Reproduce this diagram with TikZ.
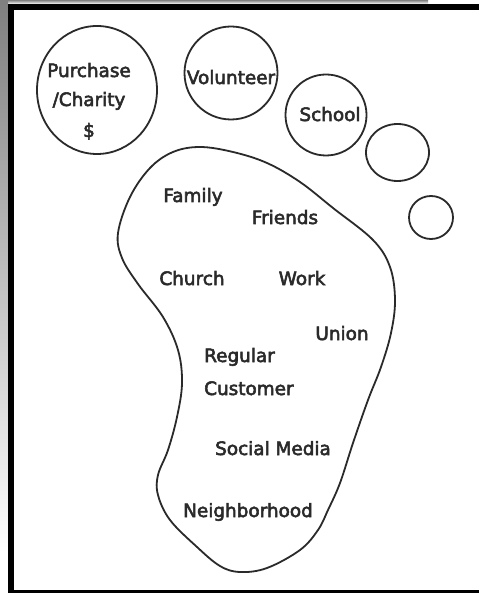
\documentclass[tikz,border=0pt]{standalone}
\usepackage{fontspec}
\setmainfont{DejaVu Sans}[FakeBold=3]
\usetikzlibrary{shapes.geometric}
\definecolor{ink}{HTML}{2A2A2A}
\definecolor{shade}{HTML}{DADADA}
\tikzset{
  toe/.style={draw=ink, line width=1.8pt, ellipse, inner sep=0pt},
  lbl/.style={text=ink, inner sep=0pt, anchor=base, font=\fontsize{18.4}{20}\selectfont},
  foot/.style={draw=ink, line width=1.8pt}
}
\begin{document}
\begin{tikzpicture}[x=1pt, y=-1pt]
\useasboundingbox (0,0) rectangle (479,593);
% background and frame
\fill[white] (0,0) rectangle (479,593);
\fill[shade] (0,0) rectangle (428,4);
\fill[shade] (0,0) rectangle (8,553);
\fill[black] (8,4) rectangle (479,593);
\fill[white] (14,10) rectangle (479,590);
% toes
\node[toe, minimum width=120pt, minimum height=128pt] (p) at (97,90) {};
\node[toe, minimum width=93pt, minimum height=93pt] (v) at (231,73) {};
\node[toe, minimum width=81pt, minimum height=81pt] (s) at (326,115) {};
\node[toe, minimum width=63pt, minimum height=57pt] (t4) at (397.5,152.5) {};
\node[toe, minimum width=44pt, minimum height=43pt] (t5) at (431,217.5) {};
% foot
\draw[foot] plot[smooth cycle, tension=0.6] coordinates {
 (200,147) (233,152) (267,163) (300,182) (333,208) (373,240) (390,267)
 (395,300) (391,333) (381,367) (368,400) (353,443) (340,483) (328,510)
 (318,530) (300,550) (267,568) (240,572) (220,566) (197,547) (170,520)
 (158,495) (158,475) (168,450) (177,417) (182,383) (178,350) (163,317)
 (138,284) (122,258) (118,233) (130,197) (150,168) (173,152)};
% labels
\node[lbl] (purchase) at (89,77) {Purchase};
\node[lbl] (charity) at (89,106) {/Charity};
\node[lbl] (dollar) at (89,137) {\$};
\node[lbl] (volunteer) at (231,84) {Volunteer};
\node[lbl] (school) at (330,121) {School};
\node[lbl] (family) at (193,202) {Family};
\node[lbl] (friends) at (285,224) {Friends};
\node[lbl] (church) at (192,285) {Church};
\node[lbl] (work) at (302,285) {Work};
\node[lbl] (union) at (342,340) {Union};
\node[lbl, anchor=base west] (regular) at (204,362) {Regular};
\node[lbl, anchor=base west] (customer) at (204,395) {Customer};
\node[lbl] (social) at (273,455) {Social Media};
\node[lbl] (neigh) at (248,517) {Neighborhood};
\end{tikzpicture}
\end{document}
